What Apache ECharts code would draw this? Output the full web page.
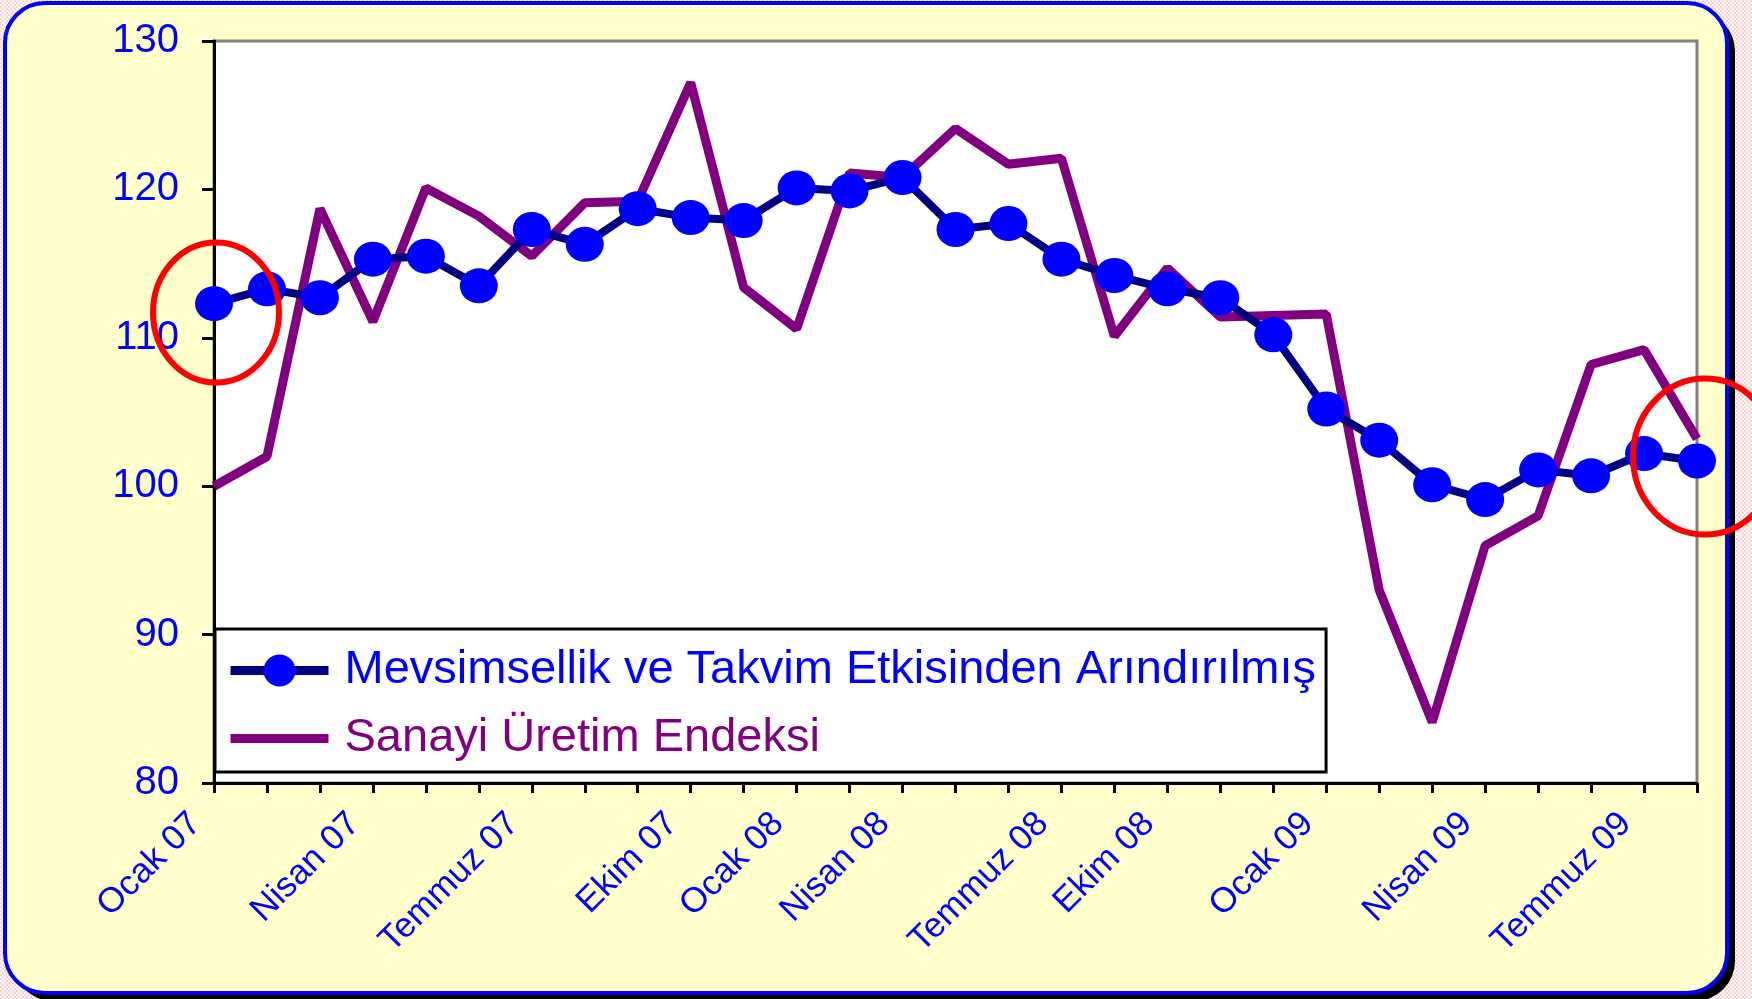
<!DOCTYPE html>
<html>
<head>
<meta charset="utf-8">
<title>Sanayi Üretim Endeksi</title>
<script src="https://cdn.jsdelivr.net/npm/echarts@6/dist/echarts.min.js"></script>
<style>
  html, body { margin: 0; padding: 0; }
  body { background: repeating-conic-gradient(#f7d6d8 0 25%, #fff5f5 0 50%) 0 0 / 4px 4px; }
  #chart { width: 1752px; height: 999px; }
</style>
</head>
<body>
<div id="chart"></div>
<script>
// eksen etiketleri: sadece bazı kategoriler yazılı
const tickLabels = ['Ocak 07', '', '', 'Nisan 07', '', '', 'Temmuz 07', '', '', 'Ekim 07', '', 'Ocak 08', '',
  'Nisan 08', '', '', 'Temmuz 08', '', 'Ekim 08', '', '', 'Ocak 09', '', '', 'Nisan 09', '', '', 'Temmuz 09', ''];
const categories = tickLabels.map((t, i) => String(i));
const yTicks = [80, 90, 100, 110, 120, 130];

const seriesNames = ['Mevsimsellik ve Takvim Etkisinden Arındırılmış', 'Sanayi Üretim Endeksi'];
// mevsimsellik ve takvim etkisinden arındırılmış
const arindirilmis = [112.3, 113.3, 112.7, 115.3, 115.5, 113.5, 117.3, 116.3, 118.7, 118.1, 117.9, 120.1, 119.9, 120.8,
  117.3, 117.7, 115.3, 114.2, 113.3, 112.7, 110.2, 105.2, 103.1, 100.1, 99.1, 101.1, 100.7, 102.2, 101.7];
// sanayi üretim endeksi
const sanayi = [100.0, 102.0, 118.7, 111.1, 120.1, 118.2, 115.5, 119.1, 119.2, 127.2, 113.4, 110.6, 121.1, 120.8,
  124.1, 121.7, 122.1, 110.1, 114.7, 111.4, 111.5, 111.6, 93.0, 84.1, 96.0, 98.0, 108.2, 109.2, 103.2];

const font = 'Liberation Sans, Arial, sans-serif';
const chart = echarts.init(document.getElementById('chart'));

const option = {
  animation: false,
  textStyle: { fontFamily: font },
  graphic: [
    // kart gölgesi ve kart
    { id: 'shadow', type: 'rect', z: -10, shape: { x: 13, y: 11, width: 1722, height: 990, r: 40 }, style: { fill: '#000' } },
    { id: 'card', type: 'rect', z: -9, shape: { x: 5, y: 3, width: 1722, height: 990, r: 40 },
      style: { fill: '#ffffcc', stroke: '#0000ff', lineWidth: 4 } }
  ],
  grid: {
    left: 214, top: 41, right: 55, bottom: 216,
    show: true, backgroundColor: '#fff', borderColor: '#808080', borderWidth: 3
  },
  legend: {
    orient: 'vertical',
    left: 215, top: 629,
    backgroundColor: '#fff', borderColor: '#000', borderWidth: 3,
    padding: [18, 10, 10, 11],
    itemWidth: 98, itemHeight: 40, itemGap: 21,
    selectedMode: false,
    lineStyle: { width: 9 },
    textStyle: { fontSize: 47, fontFamily: font, padding: [0, 0, 0, 11] },
    data: [
      { name: seriesNames[0], textStyle: { color: '#0000ff' } },
      { name: seriesNames[1], textStyle: { color: '#800080' }, itemStyle: { opacity: 0 } }
    ]
  },
  xAxis: {
    type: 'category',
    data: categories,
    boundaryGap: false,
    axisLine: { lineStyle: { color: '#000', width: 3 } },
    axisTick: { show: true, interval: 0, length: 10, lineStyle: { color: '#000', width: 3 } },
    axisLabel: {
      interval: 0, rotate: 45, margin: 17, color: '#0000ff', fontSize: 35, fontFamily: font,
      padding: [0, 26, 0, 0],
      formatter: (v, i) => tickLabels[i]
    },
    splitLine: { show: false }
  },
  yAxis: {
    type: 'value',
    min: yTicks[0], max: yTicks[yTicks.length - 1], interval: yTicks[1] - yTicks[0],
    axisLine: { show: true, lineStyle: { color: '#000', width: 3 } },
    axisTick: { show: true, length: 12, lineStyle: { color: '#000', width: 3 } },
    axisLabel: { color: '#0000ff', fontSize: 40, fontFamily: font, margin: 35 },
    splitLine: { show: false }
  },
  series: [
    {
      name: seriesNames[1], type: 'line', data: sanayi, z: 2,
      symbol: 'none',
      lineStyle: { color: '#800080', width: 9 },
      itemStyle: { color: '#800080' }
    },
    {
      name: seriesNames[0], type: 'line', data: arindirilmis, z: 3,
      symbol: 'circle', symbolSize: [38, 35],
      lineStyle: { color: '#000080', width: 8 },
      itemStyle: { color: '#0000ff' }
    }
  ]
};
chart.setOption(option);

// kırmızı halkalar (başlangıç ve son nokta vurgusu)
const rings = [
  { id: 'ring1', at: [0, 111.7], dx: 2, rx: 63, ry: 70 },
  { id: 'ring2', at: [28, 102.0], dx: 8, rx: 72, ry: 78 }
];
chart.setOption({
  graphic: rings.map(r => {
    const p = chart.convertToPixel({ gridIndex: 0 }, r.at);
    return {
      id: r.id, type: 'ellipse', z: 100,
      shape: { cx: p[0] + r.dx, cy: p[1], rx: r.rx, ry: r.ry },
      style: { fill: 'none', stroke: '#ff0000', lineWidth: 6 }
    };
  })
});
</script>
</body>
</html>
